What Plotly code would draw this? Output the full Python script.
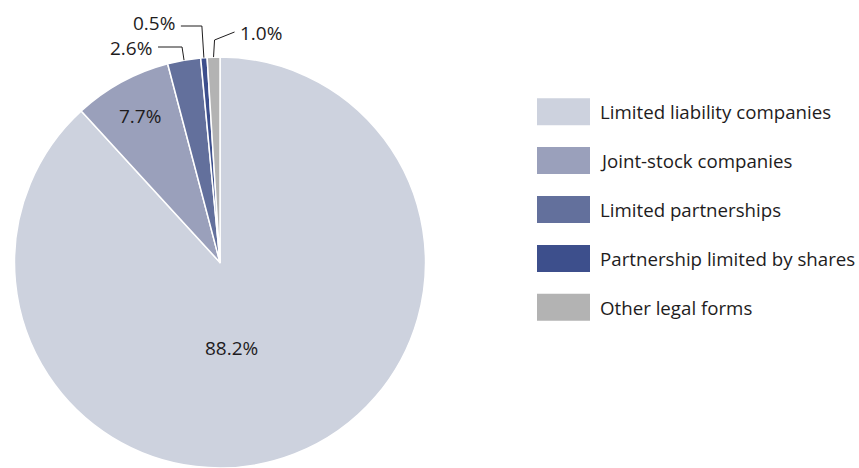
import math
import plotly.graph_objects as go

# Shares of companies by legal form (%)
categories = [
    "Limited liability companies",
    "Joint-stock companies",
    "Limited partnerships",
    "Partnership limited by shares",
    "Other legal forms",
]
shares = [88.2, 7.7, 2.6, 0.5, 1.0]
colors = ["#cdd2de", "#9aa0bb", "#63709c", "#3d4f8c", "#b3b3b3"]

W, H = 859, 468
FONT = "Open Sans, Noto Sans, sans-serif"
TXT = "#1e1c1d"

# Pie geometry in pixels
cx, cy, r = 220.0, 262.5, 205.5


def px(x):
    return x / W


def py(y):
    return 1 - y / H


fig = go.Figure()
fig.add_trace(go.Pie(
    labels=categories,
    values=shares,
    sort=False,
    direction="clockwise",
    rotation=0,
    marker=dict(colors=colors, line=dict(color="white", width=1.5)),
    textinfo="none",
    hoverinfo="label+percent",
    domain=dict(x=[px(cx - r), px(cx + r)], y=[py(cy + r), py(cy - r)]),
    showlegend=False,
))

# Inside labels: (angle shift from slice middle in degrees, radius fraction)
inside_labels = {
    0: (13.8, 0.42),
    1: (0.0, 0.81),
}

# Outside labels with elbow leader lines for the thin slices
callouts = {
    2: dict(elbow_y=47, end_dx=-24, anchor="right", ty=48),
    3: dict(elbow_y=26, end_dx=-21, anchor="right", ty=23),
    4: dict(elbow_y=40, end_dx=20, anchor="left", ty=33),
}

total = sum(shares)
start = 0.0
shapes = []
annotations = []
for i, v in enumerate(shares):
    mid = start + v / total * 360 / 2
    start += v / total * 360
    label = f"{v:.1f}%"
    if i in inside_labels:
        shift, frac = inside_labels[i]
        a = math.radians(mid + shift)
        annotations.append(dict(
            x=px(cx + frac * r * math.sin(a)), y=py(cy - frac * r * math.cos(a)),
            xref="paper", yref="paper", text=label, showarrow=False,
            xanchor="center", yanchor="middle",
            font=dict(family=FONT, size=19, color=TXT),
        ))
        continue
    c = callouts[i]
    a = math.radians(mid)
    ex = cx + r * math.sin(a)
    ey = cy - r * math.cos(a)
    kx = ex - 2 if c["end_dx"] < 0 else ex + 1
    ky = c["elbow_y"]
    if c["end_dx"] < 0:
        endx, endy = kx + c["end_dx"], ky
    else:
        endx, endy = kx + c["end_dx"], ky - 8
    path = f"M {px(ex)},{py(ey)} L {px(kx)},{py(ky)} L {px(endx)},{py(endy)}"
    shapes.append(dict(type="path", xref="paper", yref="paper", path=path,
                       line=dict(color=TXT, width=1)))
    tx = endx - 4 if c["end_dx"] < 0 else endx + 3
    annotations.append(dict(
        x=px(tx), y=py(c["ty"]), xref="paper", yref="paper",
        text=label, showarrow=False,
        xanchor=c["anchor"], yanchor="middle",
        font=dict(family=FONT, size=19, color=TXT),
    ))

# Legend drawn as large swatches with labels
lx0, lx1, sw_h = 537, 590, 27
row0, row_gap = 111.7, 48.9
for i, (name, col) in enumerate(zip(categories, colors)):
    yc = row0 + i * row_gap
    shapes.append(dict(type="rect", xref="paper", yref="paper",
                       x0=px(lx0), x1=px(lx1),
                       y0=py(yc + sw_h / 2), y1=py(yc - sw_h / 2),
                       fillcolor=col, line=dict(width=0)))
    annotations.append(dict(
        x=px(598), y=py(yc), xref="paper", yref="paper",
        text=name, showarrow=False, xanchor="left", yanchor="middle",
        font=dict(family=FONT, size=18.7, color=TXT),
    ))

fig.update_layout(
    width=W, height=H,
    margin=dict(l=0, r=0, t=0, b=0),
    paper_bgcolor="white",
    plot_bgcolor="white",
    shapes=shapes,
    annotations=annotations,
    showlegend=False,
)

fig.write_html("out.html")
